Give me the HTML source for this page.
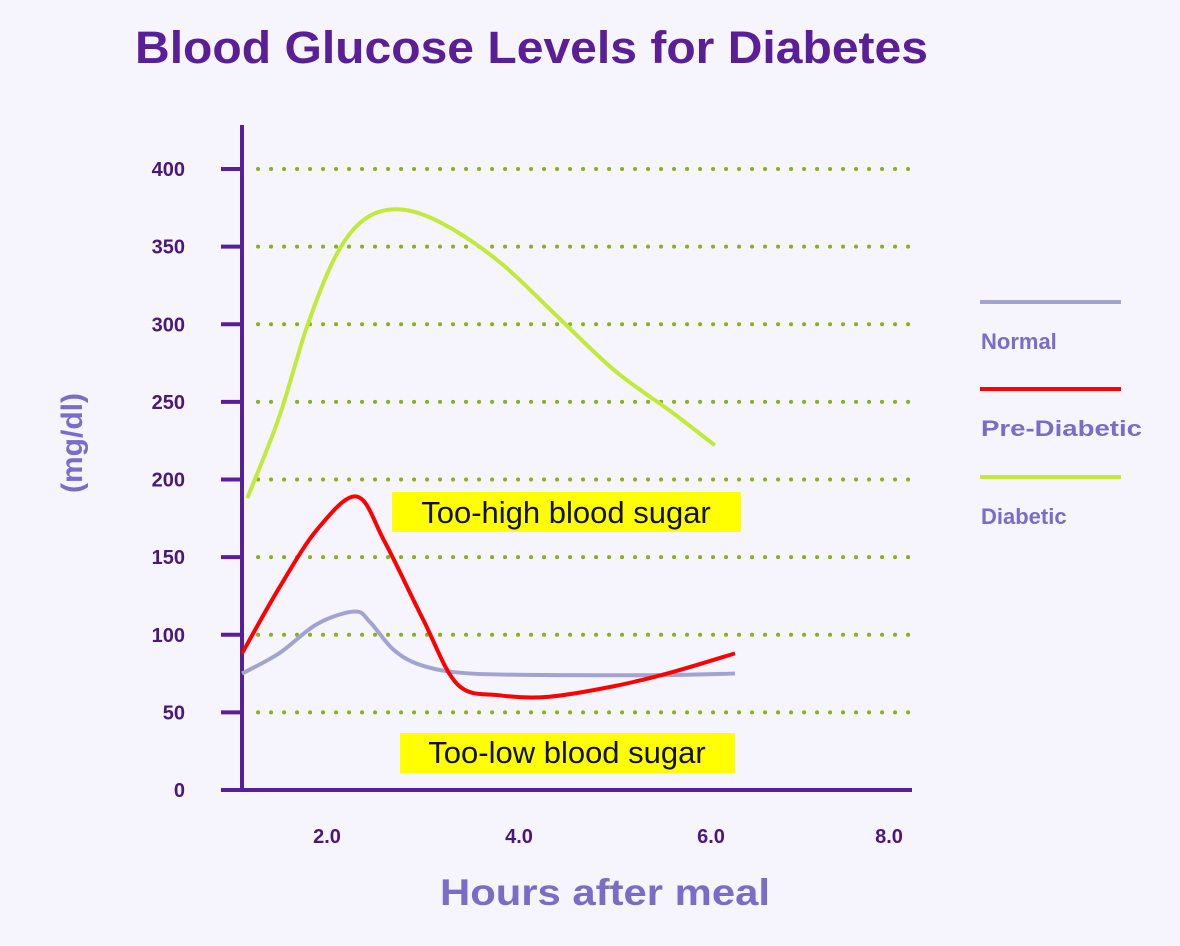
<!DOCTYPE html>
<html><head><meta charset="utf-8"><style>
body{margin:0;background:#f6f4fd;}
svg{display:block;font-family:"Liberation Sans",sans-serif;}
</style></head><body>
<svg width="1180" height="946" viewBox="0 0 1180 946">
<rect width="1180" height="946" fill="#f6f4fd"/>
<text x="135" y="63" font-size="45" font-weight="bold" fill="#5a1e96" textLength="793" lengthAdjust="spacingAndGlyphs">Blood Glucose Levels for Diabetes</text>
<g id="grid"></g><g id="axes"></g>
<rect x="392" y="492" width="349" height="40" fill="#ffff00"/>
<text x="566" y="523" font-size="31" text-anchor="middle" fill="#111">Too-high blood sugar</text>
<rect x="400" y="733" width="335" height="40" fill="#ffff00"/>
<text x="567" y="763" font-size="31" text-anchor="middle" fill="#111">Too-low blood sugar</text>
<g id="series"></g>
<text transform="translate(82,443) rotate(-90)" font-size="30" font-weight="bold" fill="#7b6cc8" text-anchor="middle">(mg/dl)</text>
<text x="440" y="905" font-size="37" font-weight="bold" fill="#7b6cc8" textLength="330" lengthAdjust="spacingAndGlyphs">Hours after meal</text>
<g>
<line x1="980" y1="302" x2="1121" y2="302" stroke="#a3a3d2" stroke-width="4"/>
<text x="981" y="349" font-size="22" font-weight="bold" fill="#7b6cc8">Normal</text>
<line x1="980" y1="389" x2="1121" y2="389" stroke="#ff0000" stroke-width="4"/>
<text x="981" y="436" font-size="22" font-weight="bold" fill="#7b6cc8" textLength="161" lengthAdjust="spacingAndGlyphs">Pre-Diabetic</text>
<line x1="980" y1="477" x2="1121" y2="477" stroke="#c2ea3a" stroke-width="4"/>
<text x="981" y="524" font-size="22" font-weight="bold" fill="#7b6cc8">Diabetic</text>
</g>
</svg>
<script>
const yTicks=[0,50,100,150,200,250,300,350,400];
const xTicks=["2.0","4.0","6.0","8.0"];
const xTickVals=[2,4,6,8];
const diabeticH=[1.17,1.5,1.8,2.1,2.4,2.76,3.2,3.8,4.4,5.0,5.6,6.04];
const diabeticV=[188,240,300,345,368,374,365,340,305,270,243,222];
const preH=[1.115,1.5,1.9,2.31,2.6,3.0,3.36,3.8,4.3,5.0,5.6,6.25];
const preV=[88,130,168,189,160,110,68,61,60,67,76,88];
const normH=[1.115,1.5,1.9,2.29,2.45,2.7,3.0,3.5,4.5,5.5,6.25];
const normV=[75,88,107,115,108,90,80,75,74,74,75];
const NS="http://www.w3.org/2000/svg";
function X(h){return 327+(h-2)*96;}
function Y(v){return 790-v*(621/400);}
function mk(t,a,p){const e=document.createElementNS(NS,t);for(const k in a)e.setAttribute(k,a[k]);p.appendChild(e);return e;}
const grid=document.getElementById('grid'),axes=document.getElementById('axes'),ser=document.getElementById('series');
yTicks.forEach(v=>{
 if(v>0){const l=mk('line',{x1:258,x2:912,y1:Y(v),y2:Y(v),stroke:'#8bb01e','stroke-width':4,'stroke-dasharray':'0.1 12.9','stroke-linecap':'round'},grid);
 
 }
 const t=mk('line',{x1:221,x2:242,y1:Y(v),y2:Y(v),stroke:'#5a1e96','stroke-width':4},axes);
 
 
 const tx=mk('text',{x:185,y:Y(v)+7,'font-size':20,'font-weight':'bold',fill:'#4a1878','text-anchor':'end'},axes);
 tx.textContent=v;
 
 
});
xTicks.forEach((s,i)=>{
 const tx=mk('text',{x:X(xTickVals[i])-(i==3?14:0),y:843,'font-size':20,'font-weight':'bold',fill:'#4a1878','text-anchor':'middle'},axes);
 tx.textContent=s;
 
 
});
const ya=mk('line',{x1:242,x2:242,y1:125,y2:792,stroke:'#5a1e96','stroke-width':4},axes);


const xa=mk('line',{x1:240,x2:912,y1:790,y2:790,stroke:'#5a1e96','stroke-width':4},axes);


function path(hs,vs){
 const p=hs.map((h,i)=>[X(h),Y(vs[i])]);
 let d='M'+p[0][0]+','+p[0][1];
 for(let i=0;i<p.length-1;i++){
  const p0=p[Math.max(0,i-1)],p1=p[i],p2=p[i+1],p3=p[Math.min(p.length-1,i+2)];
  const c1=[p1[0]+(p2[0]-p0[0])/6,p1[1]+(p2[1]-p0[1])/6],c2=[p2[0]-(p3[0]-p1[0])/6,p2[1]-(p3[1]-p1[1])/6];
  d+=' C'+c1+' '+c2+' '+p2;
 }
 return d;
}
[[normH,normV,'#a3a3d2','normal'],[diabeticH,diabeticV,'#c2ea3a','diabetic'],[preH,preV,'#ff0000','prediabetic']].forEach(s=>{
 const e=mk('path',{d:path(s[0],s[1]),fill:'none',stroke:s[2],'stroke-width':4,'stroke-linejoin':'round'},ser);
 
 
});
</script>
</body></html>
